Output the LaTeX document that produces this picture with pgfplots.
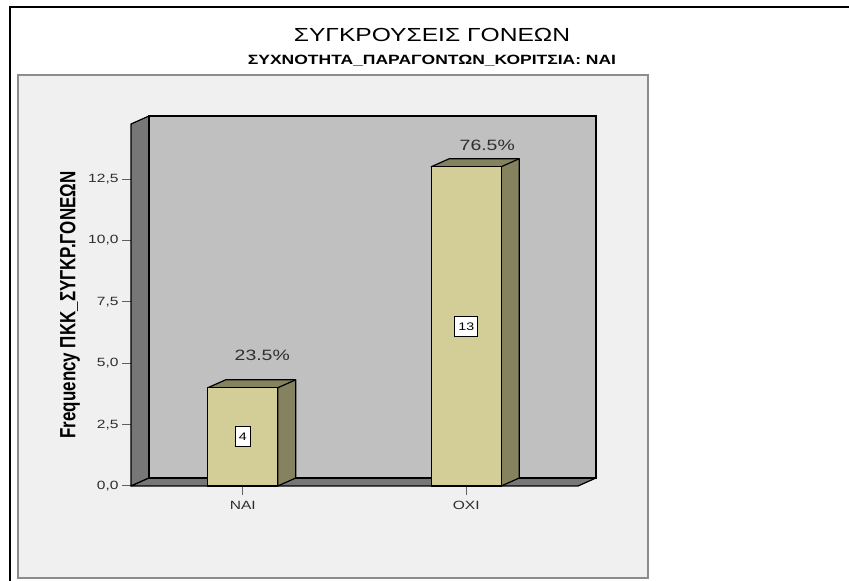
\documentclass[border=0pt]{standalone}
\usepackage{graphicx}
\usepackage{pgfplots}
\pgfplotsset{compat=1.18}
\usepackage{fontspec}
\setmainfont{Liberation Sans}[FakeStretch=1.3]
\newfontfamily\plainsans{Liberation Sans}
\definecolor{panel}{HTML}{F0F0F0}
\definecolor{panelborder}{HTML}{8C8C8C}
\definecolor{backwall}{HTML}{C0C0C0}
\definecolor{sidewall}{HTML}{777777}
\definecolor{barfront}{HTML}{D3CE97}
\definecolor{barside}{HTML}{85825F}
\definecolor{labgray}{HTML}{2E2E2E}
\definecolor{tickgray}{HTML}{606060}

% 3D side and top faces of a bar: left x, right x, value
\newcommand\barsides[3]{%
  \filldraw[fill=barside, draw=black, line width=1.2bp, line join=round]
    (axis cs:#2,0) -- ([shift={(18bp,8bp)}]axis cs:#2,0)
    -- ([shift={(18bp,8bp)}]axis cs:#2,#3) -- ([shift={(18bp,8bp)}]axis cs:#1,#3)
    -- (axis cs:#1,#3) -- (axis cs:#2,#3) -- cycle;
  \draw[black, line width=1.2bp] (axis cs:#2,#3) -- ([shift={(18bp,8bp)}]axis cs:#2,#3);
}

\begin{document}
\begin{tikzpicture}
\path[use as bounding box] (0bp,0bp) rectangle (849bp,581bp);
\fill[white] (0bp,0bp) rectangle (849bp,581bp);
% outer frame (clipped at right and bottom)
\draw[black, line width=2bp] (9.7bp,-2bp) -- (9.7bp,574.3bp) -- (852bp,574.3bp);
% inner chart panel
\filldraw[fill=panel, draw=panelborder, line width=1.5bp] (18bp,3bp) rectangle (648bp,506bp);
% titles
\node[anchor=base, font=\fontsize{19}{22}\selectfont] at (432bp,539bp) {ΣΥΓΚΡΟΥΣΕΙΣ ΓΟΝΕΩΝ};
\node[anchor=base, font=\fontsize{13.5}{16}\selectfont\bfseries] at (432bp,516bp) {ΣΥΧΝΟΤΗΤΑ\_ΠΑΡΑΓΟΝΤΩΝ\_ΚΟΡΙΤΣΙΑ: ΝΑΙ};

\begin{axis}[
  at={(131bp,95bp)}, anchor=south west,
  width=447bp, height=362bp, scale only axis,
  xmin=-0.5, xmax=1.5, ymin=0, ymax=14.74,
  axis x line*=bottom, axis y line*=left,
  axis line style={draw=none},
  xtick={0,1}, xticklabels={ΝΑΙ, ΟΧΙ},
  ytick={0,2.5,5,7.5,10,12.5},
  tick align=outside, major tick length=9bp,
  tick style={color=tickgray, line width=1bp},
  /pgf/number format/assume math mode=true,
  ticklabel style={font=\fontsize{12}{14}\selectfont, text=labgray},
  xticklabel style={yshift=-3bp},
  yticklabel style={/pgf/number format/.cd, fixed, fixed zerofill, precision=1, use comma},
  ylabel={\scalebox{1}[1.3]{\plainsans\bfseries\fontsize{17}{19}\selectfont Frequency ΠΚΚ\_ΣΥΓΚΡ.ΓΟΝΕΩΝ}},
  ylabel style={at={(rel axis cs:-0.1365,0.5)}, anchor=center},
  clip=false,
]
% back walls
\filldraw[fill=sidewall, draw=black, line width=1.2bp, line join=round]
  (rel axis cs:0,0) -- ([shift={(18bp,8bp)}]rel axis cs:0,0)
  -- ([shift={(18bp,8bp)}]rel axis cs:0,1) -- (rel axis cs:0,1) -- cycle;
\filldraw[fill=sidewall, draw=black, line width=1.2bp, line join=round]
  (rel axis cs:0,0) -- (rel axis cs:1,0)
  -- ([shift={(18bp,8bp)}]rel axis cs:1,0) -- ([shift={(18bp,8bp)}]rel axis cs:0,0) -- cycle;
\filldraw[fill=backwall, draw=black, line width=1.5bp]
  ([shift={(18bp,8bp)}]rel axis cs:0,0) rectangle ([shift={(18bp,8bp)}]rel axis cs:1,1);

% bars
\barsides{-0.1566}{0.1566}{4}
\barsides{0.8434}{1.1566}{13}
\addplot[ybar, bar width=0.3132, fill=barfront, draw=black, line width=1.2bp]
  coordinates {(0,4) (1,13)};

% labels
\node[text=labgray, font=\fontsize{15}{17}\selectfont] at ([shift={(19.5bp,32.5bp)}]axis cs:0,4) {23.5\%};
\node[text=labgray, font=\fontsize{15}{17}\selectfont] at ([shift={(21bp,21.5bp)}]axis cs:1,13) {76.5\%};
\node[draw=black, fill=white, line width=0.8bp, inner xsep=3.5bp, inner ysep=0bp, minimum height=20bp, font=\fontsize{11}{13}\selectfont] at (axis cs:0,2) {4};
\node[draw=black, fill=white, line width=0.8bp, inner xsep=3.5bp, inner ysep=0bp, minimum height=20bp, font=\fontsize{11}{13}\selectfont] at (axis cs:1,6.5) {13};
\end{axis}
\end{tikzpicture}
\end{document}
